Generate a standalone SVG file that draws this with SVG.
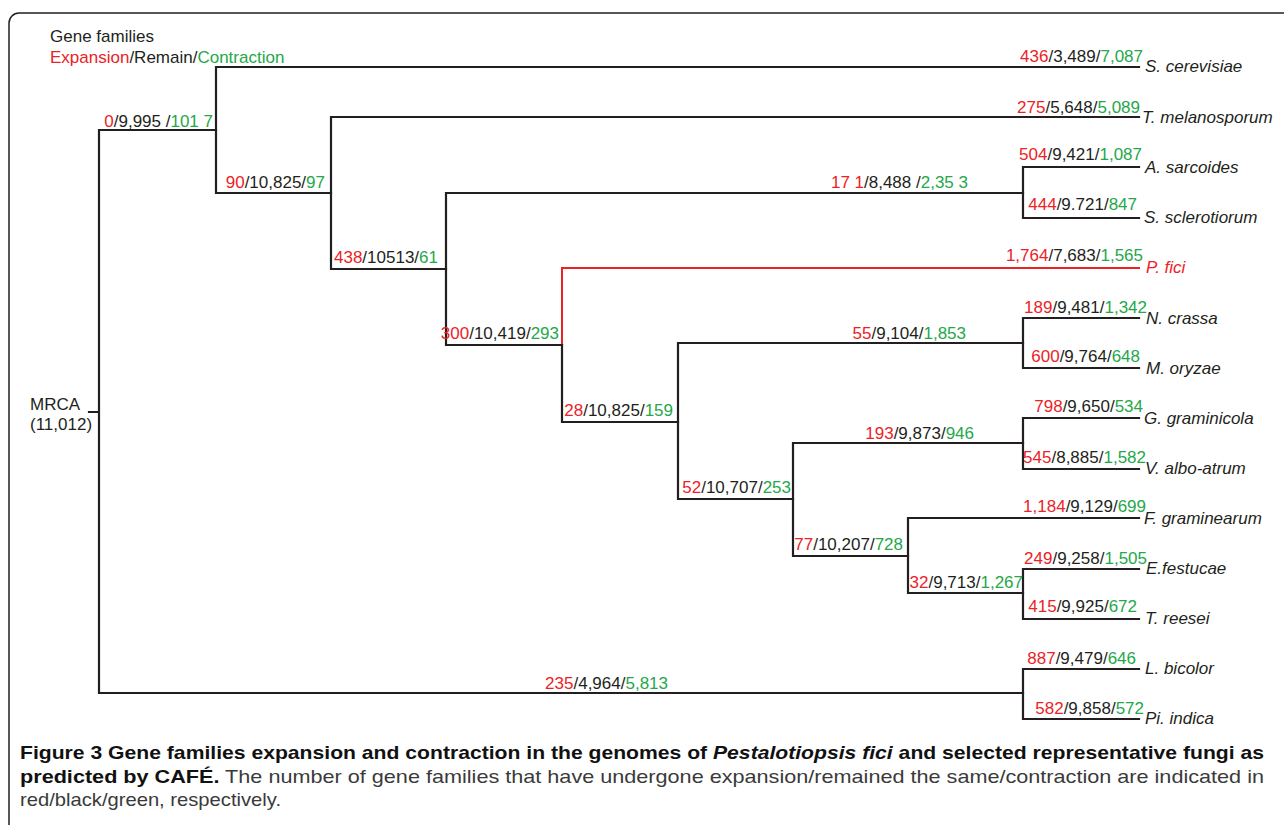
<svg xmlns="http://www.w3.org/2000/svg" width="1284" height="825" viewBox="0 0 1284 825">
<style>
text{font-family:"Liberation Sans",Arial,sans-serif;font-size:17px;fill:#231f20}
.r{fill:#ec2227}
.g{fill:#24a84a}
.sp{font-style:italic}
.spr{font-style:italic;fill:#ec2227}
.br{fill:none;stroke:#231f20;stroke-width:2.2;stroke-linecap:square}
.brr{fill:none;stroke:#ec2227;stroke-width:2;stroke-linecap:square}
.cap{font-size:19px}
.b{font-weight:bold;fill:#111}
.rg{fill:#3a3a3a}
</style>
<rect width="1284" height="825" fill="#fff"/>
<path d="M9,830 V23 A10,10 0 0 1 19,13 H1290" fill="none" stroke="#231f20" stroke-width="1.5"/>

<g id="legend">
<text x="50" y="42">Gene families</text>
<text x="50" y="63"><tspan class="r">Expansion</tspan>/Remain/<tspan class="g">Contraction</tspan></text>
</g>

<g id="connectors">
<path class="br" d="M89,412 H99 M99,130 V693 M99,130 H216 M99,693 H1023"/>
<path class="br" d="M216,67 V193 M216,67 H1139 M216,193 H331"/>
<path class="br" d="M331,117 V269 M331,117 H1139 M331,269 H446"/>
<path class="br" d="M446,193 V345 M446,193 H1023 M446,345 H562"/>
<path class="br" d="M1023,167 V218 M1023,167 H1139 M1023,218 H1139"/>
<path class="brr" d="M562,345 V268 H1139"/>
<path class="br" d="M562,345 V422 M562,422 H678"/>
<path class="br" d="M678,343 V499 M678,343 H1023 M678,499 H793"/>
<path class="br" d="M1023,318 V368 M1023,318 H1139 M1023,368 H1139"/>
<path class="br" d="M793,443 V556 M793,443 H1023 M793,556 H908"/>
<path class="br" d="M1023,418 V469 M1023,418 H1139 M1023,469 H1139"/>
<path class="br" d="M908,518 V593 M908,518 H1139 M908,593 H1023"/>
<path class="br" d="M1023,569 V619 M1023,569 H1139 M1023,619 H1139"/>
<path class="br" d="M1023,669 V719 M1023,669 H1139 M1023,719 H1139"/>
</g>

<g id="root">
<text x="30" y="410">MRCA</text>
<text x="30" y="430">(11,012)</text>
<text x="213" y="127" text-anchor="end"><tspan class="r">0</tspan>/9,995 /<tspan class="g">101 7</tspan></text>
<text x="668" y="689" text-anchor="end"><tspan class="r">235</tspan>/4,964/<tspan class="g">5,813</tspan></text>
</g>

<g id="n-s-cerevisiae">
<text x="1143" y="62" text-anchor="end"><tspan class="r">436</tspan>/3,489/<tspan class="g">7,087</tspan></text>
<text class="sp" x="1145" y="72">S. cerevisiae</text>
</g>
<g id="n-90">
<text x="325" y="188" text-anchor="end"><tspan class="r">90</tspan>/10,825/<tspan class="g">97</tspan></text>
</g>
<g id="n-t-melanosporum">
<text x="1140" y="113" text-anchor="end"><tspan class="r">275</tspan>/5,648/<tspan class="g">5,089</tspan></text>
<text class="sp" x="1142" y="123">T. melanosporum</text>
</g>
<g id="n-438">
<text x="438" y="263" text-anchor="end"><tspan class="r">438</tspan>/10513/<tspan class="g">61</tspan></text>
</g>
<g id="n-171">
<text x="968" y="188" text-anchor="end"><tspan class="r">17 1</tspan>/8,488 /<tspan class="g">2,35 3</tspan></text>
</g>
<g id="n-a-sarcoides">
<text x="1142" y="160" text-anchor="end"><tspan class="r">504</tspan>/9,421/<tspan class="g">1,087</tspan></text>
<text class="sp" x="1145" y="173">A. sarcoides</text>
</g>
<g id="n-s-sclerotiorum">
<text x="1137" y="210" text-anchor="end"><tspan class="r">444</tspan>/9.721/<tspan class="g">847</tspan></text>
<text class="sp" x="1144" y="223">S. sclerotiorum</text>
</g>
<g id="n-300">
<text x="559" y="339" text-anchor="end"><tspan class="r">300</tspan>/10,419/<tspan class="g">293</tspan></text>
</g>
<g id="n-p-fici">
<text x="1143" y="261" text-anchor="end"><tspan class="r">1,764</tspan>/7,683/<tspan class="g">1,565</tspan></text>
<text class="spr" x="1146" y="273">P. fici</text>
</g>
<g id="n-28">
<text x="673" y="416" text-anchor="end"><tspan class="r">28</tspan>/10,825/<tspan class="g">159</tspan></text>
</g>
<g id="n-55">
<text x="966" y="339" text-anchor="end"><tspan class="r">55</tspan>/9,104/<tspan class="g">1,853</tspan></text>
</g>
<g id="n-n-crassa">
<text x="1147" y="313" text-anchor="end"><tspan class="r">189</tspan>/9,481/<tspan class="g">1,342</tspan></text>
<text class="sp" x="1146" y="324">N. crassa</text>
</g>
<g id="n-m-oryzae">
<text x="1140" y="362" text-anchor="end"><tspan class="r">600</tspan>/9,764/<tspan class="g">648</tspan></text>
<text class="sp" x="1146" y="374">M. oryzae</text>
</g>
<g id="n-52">
<text x="791" y="493" text-anchor="end"><tspan class="r">52</tspan>/10,707/<tspan class="g">253</tspan></text>
</g>
<g id="n-193">
<text x="974" y="439" text-anchor="end"><tspan class="r">193</tspan>/9,873/<tspan class="g">946</tspan></text>
</g>
<g id="n-g-graminicola">
<text x="1143" y="412" text-anchor="end"><tspan class="r">798</tspan>/9,650/<tspan class="g">534</tspan></text>
<text class="sp" x="1144" y="424">G. graminicola</text>
</g>
<g id="n-v-albo-atrum">
<text x="1146" y="463" text-anchor="end"><tspan class="r">545</tspan>/8,885/<tspan class="g">1,582</tspan></text>
<text class="sp" x="1145" y="474">V. albo-atrum</text>
</g>
<g id="n-77">
<text x="903" y="550" text-anchor="end"><tspan class="r">77</tspan>/10,207/<tspan class="g">728</tspan></text>
</g>
<g id="n-f-graminearum">
<text x="1146" y="512" text-anchor="end"><tspan class="r">1,184</tspan>/9,129/<tspan class="g">699</tspan></text>
<text class="sp" x="1144" y="524">F. graminearum</text>
</g>
<g id="n-32">
<text x="1023" y="588" text-anchor="end"><tspan class="r">32</tspan>/9,713/<tspan class="g">1,267</tspan></text>
</g>
<g id="n-e-festucae">
<text x="1147" y="564" text-anchor="end"><tspan class="r">249</tspan>/9,258/<tspan class="g">1,505</tspan></text>
<text class="sp" x="1146" y="574">E.festucae</text>
</g>
<g id="n-t-reesei">
<text x="1137" y="612" text-anchor="end"><tspan class="r">415</tspan>/9,925/<tspan class="g">672</tspan></text>
<text class="sp" x="1145" y="624">T. reesei</text>
</g>
<g id="n-l-bicolor">
<text x="1136" y="664" text-anchor="end"><tspan class="r">887</tspan>/9,479/<tspan class="g">646</tspan></text>
<text class="sp" x="1145" y="674">L. bicolor</text>
</g>
<g id="n-pi-indica">
<text x="1144" y="714" text-anchor="end"><tspan class="r">582</tspan>/9,858/<tspan class="g">572</tspan></text>
<text class="sp" x="1145" y="724">Pi. indica</text>
</g>

<g id="caption">
<text class="cap" x="20" y="759" textLength="1244" lengthAdjust="spacingAndGlyphs"><tspan class="b">Figure 3 Gene families expansion and contraction in the genomes of </tspan><tspan class="b" font-style="italic" font-weight="normal">Pestalotiopsis fici</tspan><tspan class="b"> and selected representative fungi as</tspan></text>
<text class="cap" x="20" y="783" textLength="1244" lengthAdjust="spacingAndGlyphs"><tspan class="b">predicted by CAFÉ.</tspan><tspan class="rg"> The number of gene families that have undergone expansion/remained the same/contraction are indicated in</tspan></text>
<text class="cap rg" x="20" y="806" textLength="261" lengthAdjust="spacingAndGlyphs">red/black/green, respectively.</text>
</g>
</svg>
